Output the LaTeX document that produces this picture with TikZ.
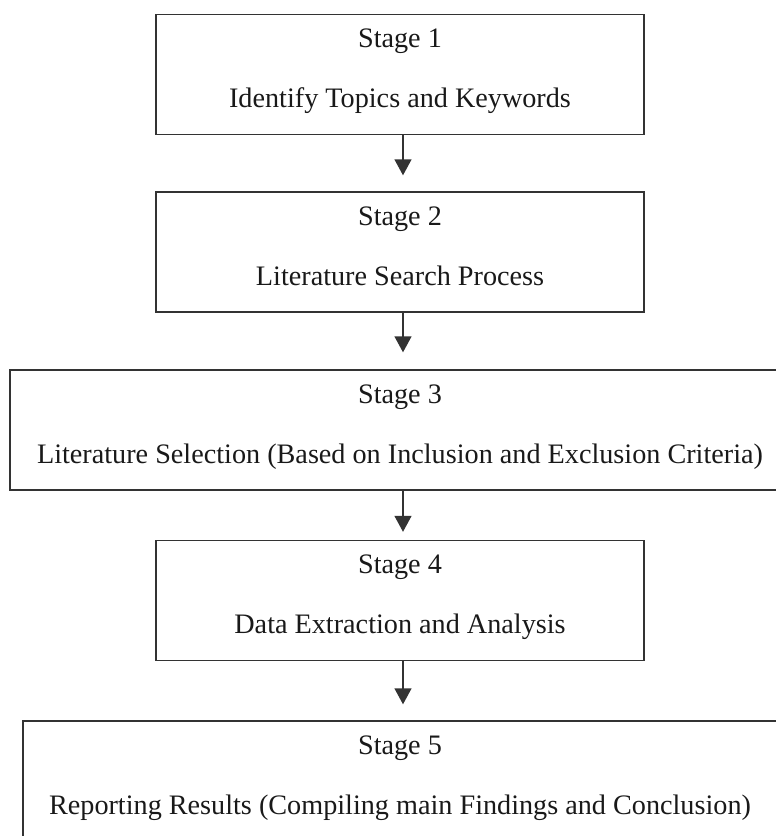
\documentclass[tikz,border=0pt]{standalone}
\usepackage{fontspec}
\setmainfont{Liberation Serif}
\usetikzlibrary{arrows.meta}
\begin{document}
\begin{tikzpicture}[x=1pt,y=-1pt,
  stagebox/.style={draw=black!80,line width=1.4pt,rectangle,inner sep=0pt,minimum height=120pt},
  narrowbox/.style={stagebox,minimum width=488pt},
  txt/.style={anchor=base,inner sep=0pt,font=\fontsize{28.2}{32}\selectfont,text=black!90},
  arr/.style={draw=black!80,line width=1.4pt,-{Triangle[width=17pt,length=16pt]}}]
\useasboundingbox (0,0) rectangle (776,836);
\clip (0,0) rectangle (776,836);
\node[narrowbox] (b1) at (400,74.5) {};
\node[narrowbox] (b2) at (400,252) {};
\node[stagebox,minimum width=780pt] (b3) at (400,430) {};
\node[narrowbox] (b4) at (400,600.5) {};
\node[stagebox,minimum width=754pt] (b5) at (400,781) {};
\node[txt] (s1) at ([yshift=-34pt]b1.north) {Stage 1};
\node[txt] (t1) at ([yshift=-94pt]b1.north) {Identify Topics and Keywords};
\node[txt] (s2) at ([yshift=-34pt]b2.north) {Stage 2};
\node[txt] (t2) at ([yshift=-94pt]b2.north) {Literature Search Process};
\node[txt] (s3) at ([yshift=-34pt]b3.north) {Stage 3};
\node[txt] (t3) at ([yshift=-94pt]b3.north) {Literature Selection (Based on Inclusion and Exclusion Criteria)};
\node[txt] (s4) at ([yshift=-34pt]b4.north) {Stage 4};
\node[txt] (t4) at ([yshift=-94pt]b4.north) {Data Extraction and Analysis};
\node[txt] (s5) at ([yshift=-34pt]b5.north) {Stage 5};
\node[txt] (t5) at ([yshift=-94pt]b5.north) {Reporting Results (Compiling main Findings and Conclusion)};
\draw[arr] ([xshift=3pt]b1.south) -- ([xshift=3pt,yshift=16pt]b2.north);
\draw[arr] ([xshift=3pt]b2.south) -- ([xshift=3pt,yshift=17pt]b3.north);
\draw[arr] ([xshift=3pt]b3.south) -- ([xshift=3pt,yshift=8pt]b4.north);
\draw[arr] ([xshift=3pt]b4.south) -- ([xshift=3pt,yshift=16pt]b5.north);
\end{tikzpicture}
\end{document}
